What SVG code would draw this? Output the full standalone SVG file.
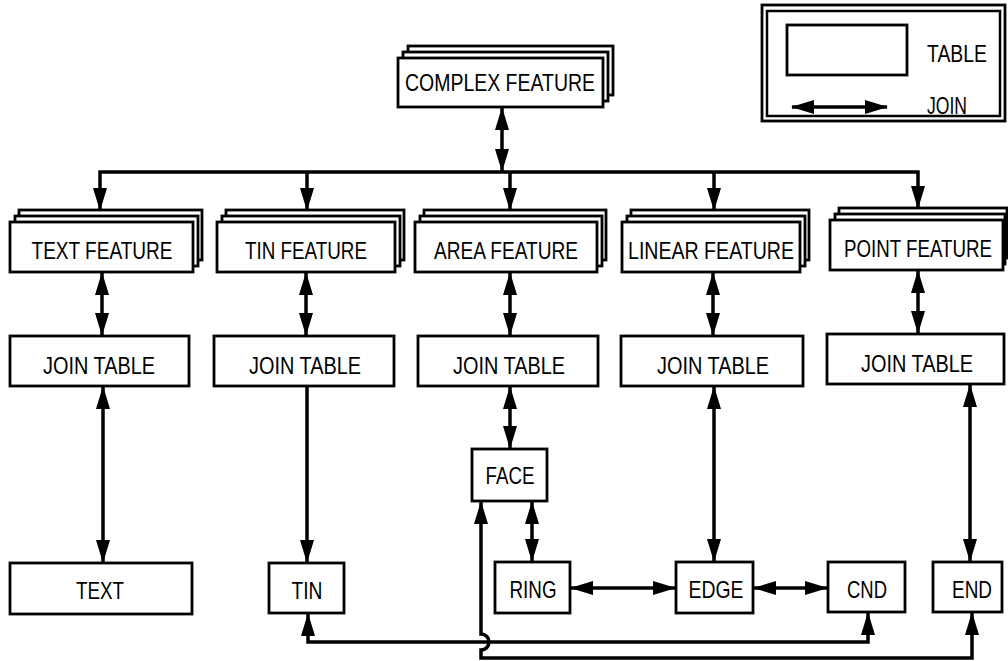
<svg xmlns="http://www.w3.org/2000/svg" width="1008" height="661" viewBox="0 0 1008 661">
<style>
.box{fill:#fff;stroke:#000;stroke-width:2.8}
.t{font-family:"Liberation Sans",Arial,Helvetica,sans-serif;font-size:24px;text-anchor:middle;fill:#000}
.c{fill:none;stroke:#000;stroke-width:3.5}
</style>
<defs>
<marker id="ah" markerUnits="userSpaceOnUse" markerWidth="24" markerHeight="15" refX="22" refY="7" orient="auto-start-reverse" viewBox="0 0 24 15">
<path d="M0,0 L23,7 L0,14 z" fill="#000"/>
</marker>
</defs>
<rect width="1008" height="661" fill="#fff"/>

<g id="legend">
<rect x="762" y="5" width="243" height="116" fill="#fff" stroke="#000" stroke-width="2.8"/>
<rect x="767" y="11" width="233" height="105" fill="none" stroke="#000" stroke-width="2.5"/>
<rect class="box" x="787" y="25" width="120" height="50"/>
<text class="t" x="957" y="62" textLength="60" lengthAdjust="spacingAndGlyphs">TABLE</text>
<line class="c" x1="792" y1="107" x2="887" y2="107" marker-start="url(#ah)" marker-end="url(#ah)"/>
<text class="t" x="947" y="114" textLength="40" lengthAdjust="spacingAndGlyphs">JOIN</text>
</g>

<g id="complex-feature">
<rect class="box" x="408" y="46" width="205" height="49"/>
<rect class="box" x="403" y="52" width="205" height="49"/>
<rect class="box" x="398" y="58" width="205" height="49"/>
<text class="t" x="500" y="91" textLength="190" lengthAdjust="spacingAndGlyphs">COMPLEX FEATURE</text>
</g>

<g id="text-feature">
<rect class="box" x="19" y="210" width="183" height="50"/>
<rect class="box" x="15" y="216" width="183" height="50"/>
<rect class="box" x="10" y="222" width="183" height="50"/>
<text class="t" x="102" y="259" textLength="141" lengthAdjust="spacingAndGlyphs">TEXT FEATURE</text>
</g>
<g id="tin-feature">
<rect class="box" x="226" y="210" width="178" height="50"/>
<rect class="box" x="222" y="216" width="178" height="50"/>
<rect class="box" x="217" y="222" width="178" height="50"/>
<text class="t" x="306" y="259" textLength="122" lengthAdjust="spacingAndGlyphs">TIN FEATURE</text>
</g>
<g id="area-feature">
<rect class="box" x="424" y="210" width="182" height="50"/>
<rect class="box" x="420" y="216" width="182" height="50"/>
<rect class="box" x="415" y="222" width="182" height="50"/>
<text class="t" x="506" y="259" textLength="144" lengthAdjust="spacingAndGlyphs">AREA FEATURE</text>
</g>
<g id="linear-feature">
<rect class="box" x="631" y="210" width="178" height="50"/>
<rect class="box" x="627" y="216" width="178" height="50"/>
<rect class="box" x="622" y="222" width="178" height="50"/>
<text class="t" x="711" y="259" textLength="166" lengthAdjust="spacingAndGlyphs">LINEAR FEATURE</text>
</g>
<g id="point-feature">
<rect class="box" x="839" y="208" width="168" height="50"/>
<rect class="box" x="835" y="214" width="170" height="50"/>
<rect class="box" x="830" y="220" width="173" height="50"/>
<text class="t" transform="translate(918,257) scale(0.78,1)" x="0" y="0">POINT FEATURE</text>
</g>

<g id="join-text">
<rect class="box" x="10" y="336" width="179" height="50"/>
<text class="t" x="99" y="374" textLength="112" lengthAdjust="spacingAndGlyphs">JOIN TABLE</text>
</g>
<g id="join-tin">
<rect class="box" x="214" y="336" width="180" height="50"/>
<text class="t" x="305" y="374" textLength="112" lengthAdjust="spacingAndGlyphs">JOIN TABLE</text>
</g>
<g id="join-area">
<rect class="box" x="418" y="336" width="180" height="50"/>
<text class="t" x="509" y="374" textLength="112" lengthAdjust="spacingAndGlyphs">JOIN TABLE</text>
</g>
<g id="join-linear">
<rect class="box" x="621" y="336" width="182" height="50"/>
<text class="t" x="713" y="374" textLength="112" lengthAdjust="spacingAndGlyphs">JOIN TABLE</text>
</g>
<g id="join-point">
<rect class="box" x="827" y="334" width="177" height="50"/>
<text class="t" x="917" y="372" textLength="112" lengthAdjust="spacingAndGlyphs">JOIN TABLE</text>
</g>

<g id="text">
<rect class="box" x="10" y="563" width="182" height="51"/>
<text class="t" x="100" y="599" textLength="48" lengthAdjust="spacingAndGlyphs">TEXT</text>
</g>
<g id="tin">
<rect class="box" x="269" y="563" width="75" height="50"/>
<text class="t" x="307" y="599" textLength="31" lengthAdjust="spacingAndGlyphs">TIN</text>
</g>
<g id="face">
<rect class="box" x="472" y="449" width="75" height="52"/>
<text class="t" x="510" y="484" textLength="49" lengthAdjust="spacingAndGlyphs">FACE</text>
</g>
<g id="ring">
<rect class="box" x="495" y="562" width="75" height="51"/>
<text class="t" x="533" y="598" textLength="47" lengthAdjust="spacingAndGlyphs">RING</text>
</g>
<g id="edge">
<rect class="box" x="676" y="562" width="77" height="51"/>
<text class="t" x="716" y="598" textLength="55" lengthAdjust="spacingAndGlyphs">EDGE</text>
</g>
<g id="cnd">
<rect class="box" x="828" y="562" width="77" height="50"/>
<text class="t" x="867" y="598" textLength="40" lengthAdjust="spacingAndGlyphs">CND</text>
</g>
<g id="end">
<rect class="box" x="933" y="562" width="69" height="50"/>
<text class="t" x="972" y="598" textLength="40" lengthAdjust="spacingAndGlyphs">END</text>
</g>

<g id="connectors">
<line class="c" x1="502" y1="108" x2="502" y2="171" marker-start="url(#ah)" marker-end="url(#ah)"/>
<path class="c" d="M100,210 V172 H918 V208" marker-start="url(#ah)" marker-end="url(#ah)"/>
<line class="c" x1="307" y1="172" x2="307" y2="210" marker-end="url(#ah)"/>
<line class="c" x1="510" y1="172" x2="510" y2="210" marker-end="url(#ah)"/>
<line class="c" x1="714" y1="172" x2="714" y2="210" marker-end="url(#ah)"/>

<line class="c" x1="102" y1="273" x2="102" y2="335" marker-start="url(#ah)" marker-end="url(#ah)"/>
<line class="c" x1="306" y1="273" x2="306" y2="335" marker-start="url(#ah)" marker-end="url(#ah)"/>
<line class="c" x1="510" y1="273" x2="510" y2="335" marker-start="url(#ah)" marker-end="url(#ah)"/>
<line class="c" x1="713" y1="273" x2="713" y2="335" marker-start="url(#ah)" marker-end="url(#ah)"/>
<line class="c" x1="918" y1="271" x2="918" y2="333" marker-start="url(#ah)" marker-end="url(#ah)"/>

<line class="c" x1="103" y1="387" x2="103" y2="562" marker-start="url(#ah)" marker-end="url(#ah)"/>
<line class="c" x1="307" y1="387" x2="307" y2="562" marker-end="url(#ah)"/>
<line class="c" x1="510" y1="387" x2="510" y2="448" marker-start="url(#ah)" marker-end="url(#ah)"/>
<line class="c" x1="532" y1="502" x2="532" y2="561" marker-start="url(#ah)" marker-end="url(#ah)"/>
<line class="c" x1="714" y1="387" x2="714" y2="561" marker-start="url(#ah)" marker-end="url(#ah)"/>
<line class="c" x1="970" y1="385" x2="970" y2="561" marker-start="url(#ah)" marker-end="url(#ah)"/>
<line class="c" x1="571" y1="588" x2="675" y2="588" marker-start="url(#ah)" marker-end="url(#ah)"/>
<line class="c" x1="754" y1="588" x2="827" y2="588" marker-start="url(#ah)" marker-end="url(#ah)"/>

<path class="c" d="M308,614 V642 H868 V613" marker-start="url(#ah)" marker-end="url(#ah)"/>
<path class="c" d="M481,502 V634 A8,8 0 0 1 481,650 V658 H972 V613" marker-start="url(#ah)" marker-end="url(#ah)"/>
</g>
</svg>
